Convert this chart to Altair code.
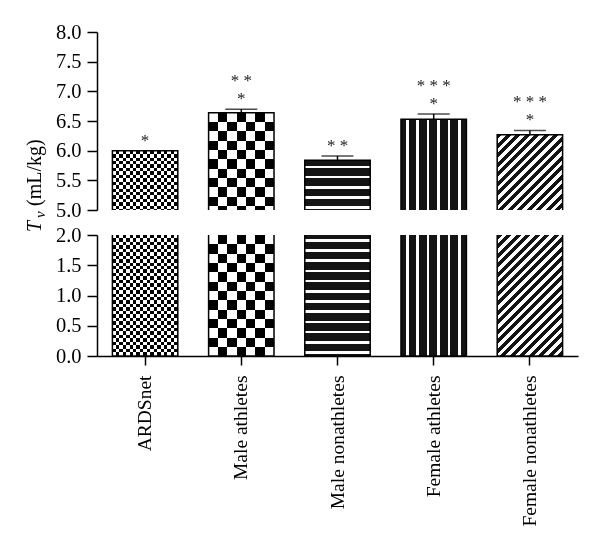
import altair as alt
import pandas as pd

# ---------------- data ----------------
categories = ["ARDSnet", "Male athletes", "Male nonathletes", "Female athletes", "Female nonathletes"]
means = [6.00, 6.64, 5.84, 6.53, 6.27]
errors = [0.00, 0.06, 0.07, 0.09, 0.07]
stars_near = ["*", "*", "* *", "*", "*"]
stars_far = ["", "* *", "", "* * *", "* * *"]
upper_ticks = [5.0, 5.5, 6.0, 6.5, 7.0, 7.5, 8.0]
lower_ticks = [0.0, 0.5, 1.0, 1.5, 2.0]
title_main, title_sub, title_unit = "T", "v", "(mL/kg)"

# ---------------- layout / style constants ----------------
PANEL_W = 481
UP_H, LO_H = 178, 121
UP_DOMAIN, LO_DOMAIN = [5, 8], [0, 2]
UP_FLOOR, LO_CEIL = 4.96, 2.04      # outline extents (hidden by clipping)
PAD_IN, PAD_OUT = 0.32, 0.16
FONT = "Liberation Serif"
BLACK, WHITE, INK = "#000000", "#ffffff", "#141414"

step = PANEL_W / (len(categories) - PAD_IN + 2 * PAD_OUT)
BAR_W = step * (1 - PAD_IN)
up_ppu = UP_H / (UP_DOMAIN[1] - UP_DOMAIN[0])
lo_ppu = LO_H / (LO_DOMAIN[1] - LO_DOMAIN[0])


def seg_stops(first, repeat, total):
    stops, pos, seq, k = [], 0.0, list(first), 0
    while pos < total - 1e-9:
        if k >= len(seq):
            seq += list(repeat)
        color, length = seq[k]
        k += 1
        end = min(pos + length, total)
        stops.append({"offset": round(pos / total, 5), "color": color})
        stops.append({"offset": round(end / total, 5), "color": color})
        pos = end
    return stops


def grad(stops, x2, y2):
    return {"gradient": "linear", "x1": 0, "y1": 0, "x2": x2, "y2": y2, "stops": stops}


def checker(n_cols):
    def f(W, H, panel):
        c = W / n_cols
        base = grad(seg_stops([], [(BLACK, c), (WHITE, c)], W), 1, 0)
        over = grad(seg_stops([], [(WHITE, c), (BLACK, c)], H), 0, 1)
        return [(base, None), (over, "difference")]
    return f


def hstripes(W, H, panel):
    first = [(INK, 5.5)] if panel == "up" else [(INK, 4.0)]
    return [(grad(seg_stops(first, [(WHITE, 2.6), (INK, 7.6)], H), 0, 1), None)]


def vstripes(W, H, panel):
    return [(grad(seg_stops([(INK, 5.0)], [(WHITE, 2.6), (INK, 7.8)], W), 1, 0), None)]


def diagonal(W, H, panel):
    S = W + H
    k = W * (W + H) / (W * W + H * H)
    return [(grad(seg_stops([], [(INK, 5.0), (WHITE, 4.5)], S), k, k * H / W), None)]


patterns = {
    "ARDSnet": checker(19),
    "Male athletes": checker(7),
    "Male nonathletes": hstripes,
    "Female athletes": vstripes,
    "Female nonathletes": diagonal,
}

df = pd.DataFrame({"group": categories, "mean": means, "err": errors,
                   "near": stars_near, "far": stars_far})
df["hi"] = df["mean"] + df["err"]

base = alt.Chart(df)
xscale = alt.Scale(domain=categories, paddingInner=PAD_IN, paddingOuter=PAD_OUT)
X_up = alt.X("group:N", sort=categories, scale=xscale, axis=None)
X_lo = alt.X("group:N", sort=categories, scale=xscale, title=None,
             axis=alt.Axis(labelAngle=270, labelPadding=10, tickSize=9, labelOverlap=False))
yscale_up = alt.Scale(domain=UP_DOMAIN, nice=False, zero=False)
yscale_lo = alt.Scale(domain=LO_DOMAIN, nice=False)
axis_up = alt.Axis(values=upper_ticks, format=".1f", labelOverlap=False)
axis_lo = alt.Axis(values=lower_ticks, format=".1f", labelOverlap=False)


def Yup(field):
    return alt.Y(field, scale=yscale_up, axis=axis_up, title=None)


def Ylo(field):
    return alt.Y(field, scale=yscale_lo, axis=axis_lo, title=None)


# ---------------- upper panel ----------------
up_layers = []
for i, cat in enumerate(categories):
    H = (means[i] - UP_DOMAIN[0]) * up_ppu
    for fill, blend in patterns[cat](BAR_W, H, "up"):
        kw = dict(fill=fill, strokeWidth=0)
        if blend:
            kw["blend"] = blend
        up_layers.append(
            base.transform_filter(alt.datum.group == cat)
            .transform_calculate(floor=str(UP_DOMAIN[0]))
            .mark_bar(**kw)
            .encode(x=X_up, y=Yup("mean:Q"), y2="floor:Q")
        )
up_layers.append(
    base.transform_calculate(floor=str(UP_FLOOR))
    .mark_bar(fillOpacity=0, stroke=BLACK, strokeWidth=1.5, clip=True)
    .encode(x=X_up, y=Yup("mean:Q"), y2="floor:Q")
)
err_base = base.transform_filter(alt.datum.err > 0)
up_layers.append(
    err_base.mark_rule(color=BLACK, strokeWidth=1.5)
    .encode(x=X_up, y=Yup("mean:Q"), y2="hi:Q")
)
up_layers.append(
    err_base.mark_tick(color=BLACK, thickness=1.5, size=32, orient="horizontal")
    .encode(x=X_up, y=Yup("hi:Q"))
)
for col, off in (("near", -10), ("far", -28)):
    up_layers.append(
        base.mark_text(font=FONT, fontSize=17, color="#222222", baseline="middle", dy=off)
        .encode(x=X_up, y=Yup("hi:Q"), text=f"{col}:N")
    )

tdf = pd.DataFrame({"main": [title_main], "sub": [title_sub], "unit": [title_unit]})
tbase = alt.Chart(tdf)
up_layers.append(
    tbase.mark_text(font=FONT, fontSize=20, fontStyle="italic", angle=270, align="left",
                    baseline="alphabetic", color=BLACK)
    .encode(text="main:N", x=alt.value(-56), y=alt.value(200))
)
up_layers.append(
    tbase.mark_text(font=FONT, fontSize=15, fontStyle="italic", angle=270, align="left",
                    baseline="alphabetic", color=BLACK)
    .encode(text="sub:N", x=alt.value(-52), y=alt.value(186))
)
up_layers.append(
    tbase.mark_text(font=FONT, fontSize=20, angle=270, align="left",
                    baseline="alphabetic", color=BLACK)
    .encode(text="unit:N", x=alt.value(-56), y=alt.value(174))
)

upper = alt.layer(*up_layers).properties(width=PANEL_W, height=UP_H)

# ---------------- lower panel ----------------
lo_layers = []
for i, cat in enumerate(categories):
    H = min(means[i], LO_DOMAIN[1]) * lo_ppu
    for fill, blend in patterns[cat](BAR_W, H, "lo"):
        kw = dict(fill=fill, strokeWidth=0)
        if blend:
            kw["blend"] = blend
        lo_layers.append(
            base.transform_filter(alt.datum.group == cat)
            .transform_calculate(top=f"min(datum.mean, {LO_DOMAIN[1]})")
            .mark_bar(**kw)
            .encode(x=X_lo, y=Ylo("top:Q"))
        )
lo_layers.append(
    base.transform_calculate(top=f"min(datum.mean, {LO_CEIL})")
    .mark_bar(fillOpacity=0, stroke=BLACK, strokeWidth=1.5, clip=True)
    .encode(x=X_lo, y=Ylo("top:Q"))
)
lower = alt.layer(*lo_layers).properties(width=PANEL_W, height=LO_H)

chart = (
    alt.vconcat(upper, lower, spacing=25, bounds="flush")
    .properties(padding={"left": 17, "top": 14, "right": 5, "bottom": 5})
    .configure_view(strokeWidth=0)
    .configure_axis(domainColor=BLACK, domainWidth=1.5, tickColor=BLACK, tickWidth=1.5,
                    tickSize=10, labelFont=FONT, labelFontSize=19.5, labelColor=BLACK,
                    labelPadding=6, grid=False)
    .configure_axisY(labelFontSize=20.5)
)

chart.save("out.html", embed_options={"renderer": "svg", "actions": False})
